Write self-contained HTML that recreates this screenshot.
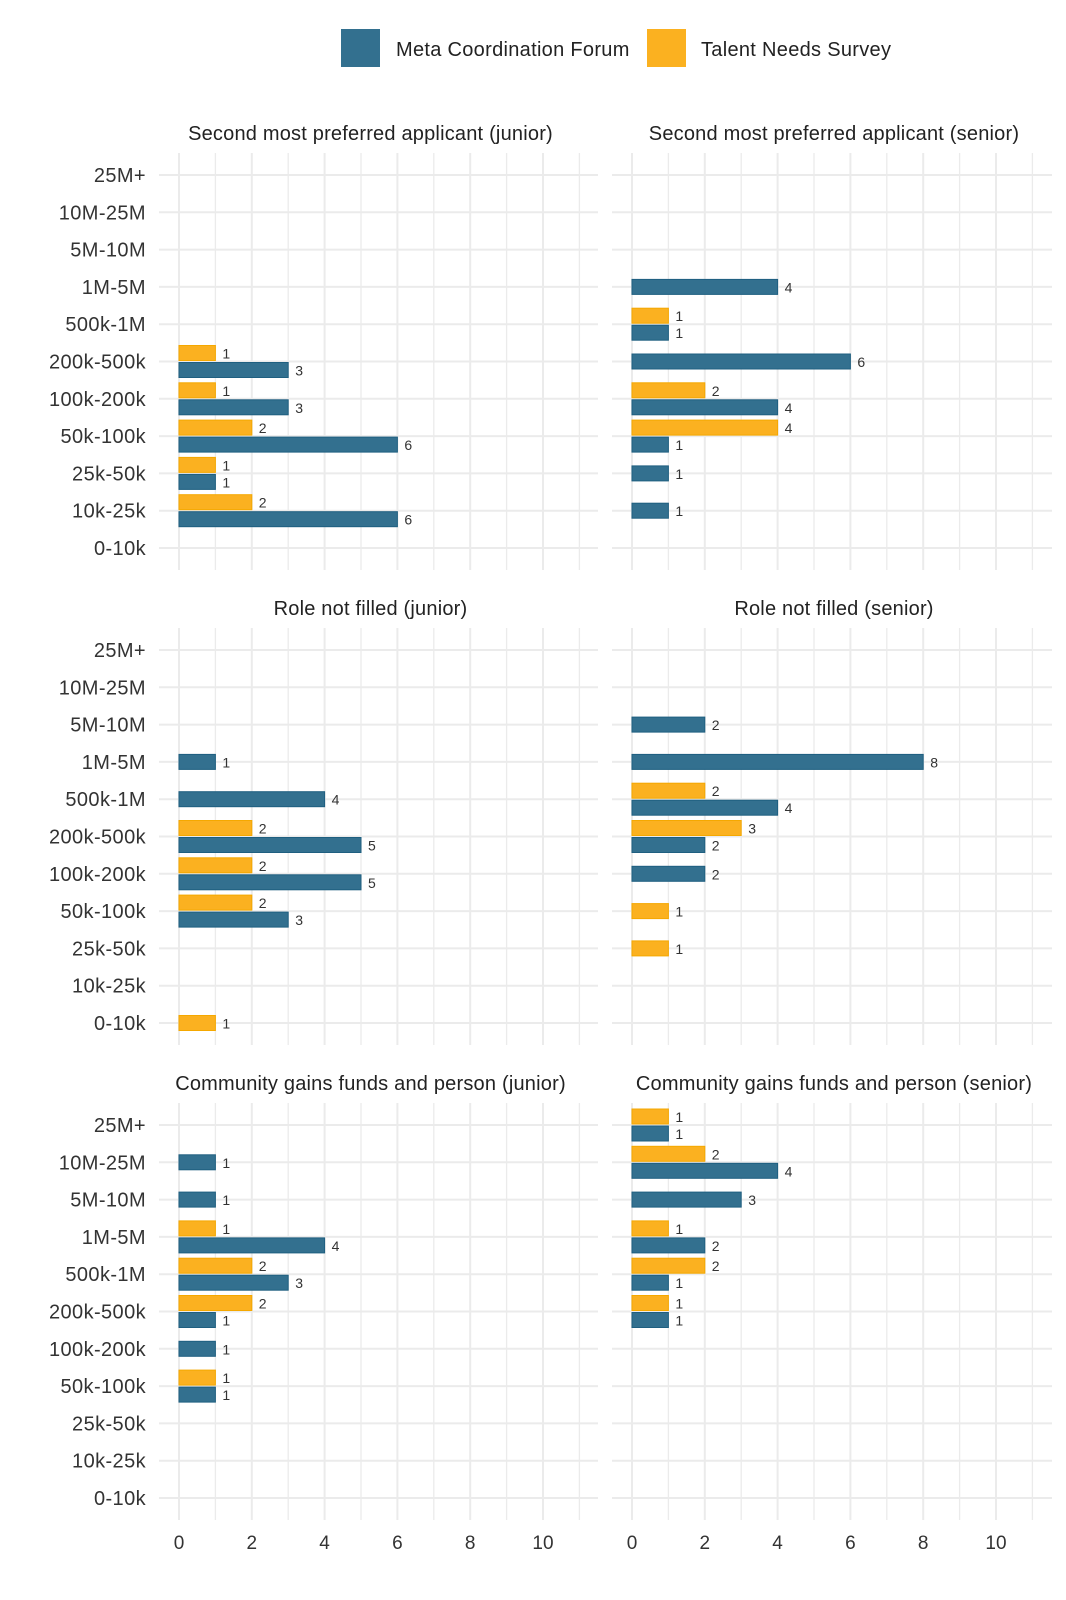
<!DOCTYPE html>
<html><head><meta charset="utf-8"><style>
body{margin:0;background:#fff;}
svg{display:block;font-family:"Liberation Sans",sans-serif;}
</style></head><body>
<svg id="chart" width="1066" height="1600" viewBox="0 0 1066 1600" xmlns="http://www.w3.org/2000/svg">
<g>
<rect x="341" y="29" width="39" height="38" fill="#33708f"/>
<text x="396" y="56" font-size="20" letter-spacing="0.3" fill="#222">Meta Coordination Forum</text>
<rect x="647" y="29" width="39" height="38" fill="#fbb120"/>
<text x="701" y="56" font-size="20" letter-spacing="0.3" fill="#222">Talent Needs Survey</text>
</g>
</svg>
<script>
const categories=["25M+","10M-25M","5M-10M","1M-5M","500k-1M","200k-500k","100k-200k","50k-100k","25k-50k","10k-25k","0-10k"];
const xTicks=[0,2,4,6,8,10];
const panelTitles=["Second most preferred applicant (junior)","Second most preferred applicant (senior)","Role not filled (junior)","Role not filled (senior)","Community gains funds and person (junior)","Community gains funds and person (senior)"];
// values per category order above; null = absent
const talent1=[null,null,null,null,null,1,1,2,1,2,null];
const meta1  =[null,null,null,null,null,3,3,6,1,6,null];
const talent2=[null,null,null,null,1,null,2,4,null,null,null];
const meta2  =[null,null,null,4,1,6,4,1,1,1,null];
const talent3=[null,null,null,null,null,2,2,2,null,null,1];
const meta3  =[null,null,null,1,4,5,5,3,null,null,null];
const talent4=[null,null,null,null,2,3,null,1,1,null,null];
const meta4  =[null,null,2,8,4,2,2,null,null,null,null];
const talent5=[null,null,null,1,2,2,null,1,null,null,null];
const meta5  =[null,1,1,4,3,1,1,1,null,null,null];
const talent6=[1,2,null,1,2,1,null,null,null,null,null];
const meta6  =[1,4,3,2,1,1,null,null,null,null,null];
const talentAll=[talent1,talent2,talent3,talent4,talent5,talent6];
const metaAll=[meta1,meta2,meta3,meta4,meta5,meta6];

const NS="http://www.w3.org/2000/svg";
const svg=document.getElementById('chart');
function mk(t,a,p){const e=document.createElementNS(NS,t);for(const k in a)e.setAttribute(k,a[k]);(p||svg).appendChild(e);return e;}
const colX=[{x0:179,left:159,right:598},{x0:632,left:612,right:1052}];
const unit=36.4, rowTop=[153,628,1103], rowStep=37.3;
for(let p=0;p<6;p++){
  const c=colX[p%2], r=Math.floor(p/2), top=rowTop[r], bottom=top+417;
  const xs=v=>c.x0+v*unit;
  const ys=i=>top+22+i*rowStep;
  const g=mk('g',{});
  
  
  for(let v=0;v*unit+c.x0<=c.right;v++){
    const l=mk('line',{x1:xs(v),x2:xs(v),y1:top,y2:bottom,stroke:'#ebebeb','stroke-width':v%2==0?2:1.3},g);
    
    
  }
  categories.forEach((cat,i)=>{
    const l=mk('line',{x1:c.left,x2:c.right,y1:ys(i),y2:ys(i),stroke:'#ebebeb','stroke-width':2},g);
    
    
    if(p%2==0){
      const t=mk('text',{x:146,y:ys(i)+7,'font-size':20,'letter-spacing':0.4,'text-anchor':'end',fill:'#333'},g);
      t.textContent=cat;
      
      
    }
  });
  const tt=mk('text',{x:(c.left+c.right)/2+(p%2?2:-8),y:top-13,'font-size':20,'letter-spacing':0.2,'text-anchor':'middle',fill:'#222'},g);
  tt.textContent=panelTitles[p];
  
  
  const T=talentAll[p], M=metaAll[p];
  categories.forEach((cat,i)=>{
    const both=T[i]!=null&&M[i]!=null;
    const draw=(v,y,fill,stroke,name)=>{
      const b=mk('rect',{x:xs(0),y:y,width:xs(v)-xs(0),height:15,fill:fill,stroke:stroke,'stroke-width':1},g);
      
      
      const t=mk('text',{x:xs(v)+7,y:y+13,'font-size':14,fill:'#333'},g);
      t.textContent=v;
      
      
    };
    if(T[i]!=null) draw(T[i],both?ys(i)-16:ys(i)-7.5,'#fbb120','#f5a800','bar-talent');
    if(M[i]!=null) draw(M[i],both?ys(i)+1:ys(i)-7.5,'#33708f','#1f5f80','bar-meta');
  });
  if(r==2){
    xTicks.forEach(v=>{
      const t=mk('text',{x:xs(v),y:1549,'font-size':19,'text-anchor':'middle',fill:'#333'},g);
      t.textContent=v;
      
      
    });
  }
}
</script>
</body></html>
